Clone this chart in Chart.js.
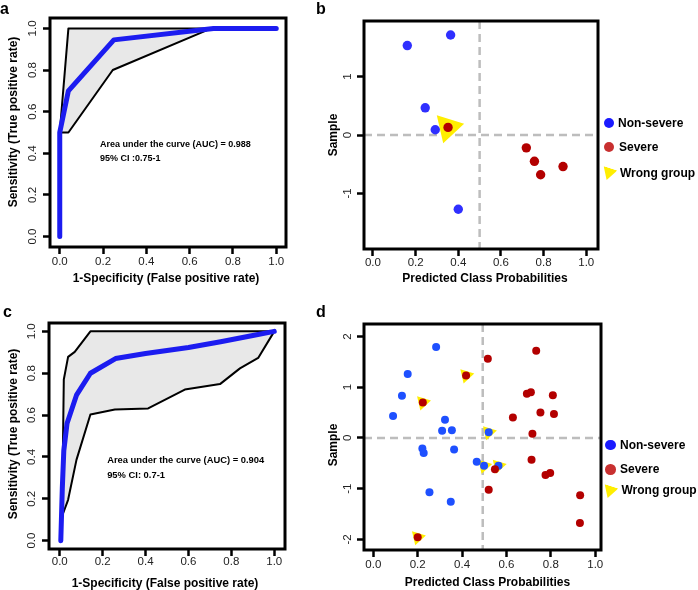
<!DOCTYPE html>
<html>
<head>
<meta charset="utf-8">
<script src="https://cdn.jsdelivr.net/npm/chart.js@4/dist/chart.umd.min.js"></script>
<style>
  body { margin: 0; background: #fff; }
  #wrap { position: relative; width: 698px; height: 590px; font-family: "Liberation Sans", Arial, sans-serif; color: #000; }
  canvas { position: absolute; }
  .lbl { position: absolute; font-weight: bold; font-size: 12px; white-space: nowrap; transform: translate(-50%, -50%); }
  .rot { transform: translate(-50%, -50%) rotate(-90deg); }
  .tag { position: absolute; font-weight: bold; font-size: 16px; line-height: 16px; }
  .leg { position: absolute; font-weight: bold; font-size: 12px; white-space: nowrap; transform: translateY(-50%); }
  .dot { position: absolute; border-radius: 50%; width: 10.6px; height: 10.6px; margin: -5.3px 0 0 -5.3px; }
  .tri { position: absolute; width: 14.4px; height: 12.5px; margin: -4.2px 0 0 -7.2px; background: #ffee00;
         clip-path: polygon(0 0, 100% 0, 50% 100%); transform-origin: 7.2px 4.2px; transform: rotate(18deg); }
</style>
</head>
<body>
<div id="wrap">
  <canvas id="chA" width="340" height="290" style="left:0;top:0"></canvas>
  <canvas id="chB" width="358" height="290" style="left:340px;top:0"></canvas>
  <canvas id="chC" width="340" height="300" style="left:0;top:290px"></canvas>
  <canvas id="chD" width="358" height="300" style="left:340px;top:290px"></canvas>

  <div class="tag" style="left:0;top:1px">a</div>
  <div class="tag" style="left:316px;top:1px">b</div>
  <div class="tag" style="left:3px;top:304px">c</div>
  <div class="tag" style="left:316px;top:304px">d</div>

  <div class="lbl rot" style="left:12.5px;top:122px">Sensitivity (True positive rate)</div>
  <div class="lbl" style="left:166px;top:277.5px">1-Specificity (False positive rate)</div>
  <div class="lbl rot" style="left:333px;top:135px">Sample</div>
  <div class="lbl" style="left:485px;top:278px">Predicted Class Probabilities</div>
  <div class="lbl rot" style="left:12.5px;top:434px">Sensitivity (True positive rate)</div>
  <div class="lbl" style="left:165px;top:582.5px">1-Specificity (False positive rate)</div>
  <div class="lbl rot" style="left:333px;top:445px">Sample</div>
  <div class="lbl" style="left:487.5px;top:582px">Predicted Class Probabilities</div>

  <span class="dot" style="left:609px;top:123px;background:#1a1aff"></span>
  <div class="leg" style="left:618px;top:123px">Non-severe</div>
  <span class="dot" style="left:609px;top:147px;background:#c83030"></span>
  <div class="leg" style="left:619px;top:147px">Severe</div>
  <span class="tri" style="left:608.7px;top:172.4px"></span>
  <div class="leg" style="left:620px;top:172.5px">Wrong group</div>

  <span class="dot" style="left:610.7px;top:445px;background:#1a1aff"></span>
  <div class="leg" style="left:620px;top:445px">Non-severe</div>
  <span class="dot" style="left:610.7px;top:469.3px;background:#c83030"></span>
  <div class="leg" style="left:620px;top:469.3px">Severe</div>
  <span class="tri" style="left:609.7px;top:490.3px"></span>
  <div class="leg" style="left:621.5px;top:490.3px">Wrong group</div>
</div>

<script>
// panel a - ROC, training set
const aFpr = [0, 0, 0.04, 0.25, 0.71, 1];
const aTpr = [0, 0.5, 0.70, 0.945, 1, 1];
const aCiUpX = [0, 0.04, 1];
const aCiUpY = [0.5, 1, 1];
const aCiLoX = [0, 0.04, 0.245, 0.70, 1];
const aCiLoY = [0.5, 0.5, 0.80, 1, 1];
const aNotes = ['Area under the curve (AUC) = 0.988', '95% CI :0.75-1'];

// panel c - ROC, validation set
const cFpr = [0.005, 0.012, 0.019, 0.034, 0.078, 0.143, 0.26, 0.40, 0.60, 0.75, 0.90, 1];
const cTpr = [0, 0.25, 0.43, 0.56, 0.695, 0.80, 0.87, 0.894, 0.923, 0.95, 0.98, 1];
const cCiUpX = [0.012, 0.015, 0.019, 0.039, 0.07, 0.143, 1];
const cCiUpY = [0.12, 0.45, 0.77, 0.878, 0.902, 1, 1];
const cCiLoX = [0.012, 0.039, 0.078, 0.143, 0.257, 0.412, 0.583, 0.747, 0.84, 0.925, 1];
const cCiLoY = [0.12, 0.195, 0.386, 0.603, 0.627, 0.632, 0.722, 0.748, 0.823, 0.873, 1];
const cNotes = ['Area under the curve (AUC) = 0.904', '95% CI: 0.7-1'];

// panel b - class probabilities
const bBlueX = [0.161, 0.364, 0.245, 0.292, 0.40];
const bBlueY = [1.53, 1.71, 0.465, 0.09, -1.27];
const bRedX = [0.352, 0.719, 0.757, 0.786, 0.891];
const bRedY = [0.13, -0.22, -0.45, -0.68, -0.54];
const bWrongX = [0.352];
const bWrongY = [0.13];
const bCut = 0.5;

// panel d - class probabilities
const dBlueX = [0.283, 0.155, 0.129, 0.089, 0.323, 0.31, 0.354, 0.221, 0.227, 0.364, 0.253, 0.349, 0.466, 0.499, 0.564, 0.52];
const dBlueY = [1.79, 1.26, 0.83, 0.43, 0.36, 0.14, 0.15, -0.21, -0.30, -0.23, -1.07, -1.26, -0.47, -0.55, -0.55, 0.11];
const dRedX = [0.516, 0.734, 0.418, 0.223, 0.692, 0.71, 0.809, 0.629, 0.753, 0.814, 0.717, 0.713, 0.548, 0.776, 0.797, 0.52, 0.932, 0.931, 0.20];
const dRedY = [1.56, 1.72, 1.23, 0.70, 0.87, 0.90, 0.84, 0.40, 0.50, 0.47, 0.08, -0.43, -0.62, -0.73, -0.69, -1.02, -1.13, -1.68, -1.96];
const dWrongX = [0.418, 0.223, 0.52, 0.499, 0.564, 0.20];
const dWrongY = [1.23, 0.70, 0.11, -0.55, -0.55, -1.96];
const dCut = 0.493;

// ticks
const rateTicks = [0, 0.2, 0.4, 0.6, 0.8, 1];
const probTicks = [0, 0.2, 0.4, 0.6, 0.8, 1];
const bSampleTicks = [-1, 0, 1];
const dSampleTicks = [-2, -1, 0, 1, 2];

const pts = (xs, ys) => xs.map((x, i) => ({ x, y: ys[i] }));
// CI band: upper line then lower line back, filled as one shape
const band = (ux, uy, lx, ly) => pts(ux, uy).concat(pts(lx, ly).reverse());

const tickFont = { family: '"Liberation Sans Narrow", "Arial Narrow", "Liberation Sans", Arial, sans-serif', size: 11.5 };
const noteFamily = '"Liberation Sans", Arial, sans-serif';

const framePlugin = {
  id: 'frame',
  beforeDatasetsDraw(chart, args, opts) {
    if (opts.cutX === undefined) return;
    const { ctx, chartArea: a, scales } = chart;
    const px = scales.x.getPixelForValue(opts.cutX);
    const py = scales.y.getPixelForValue(opts.cutY);
    ctx.save();
    ctx.strokeStyle = '#bdbdbd';
    ctx.lineWidth = 2.5;
    ctx.setLineDash([8, 5]);
    ctx.beginPath();
    ctx.moveTo(px, a.top); ctx.lineTo(px, a.bottom);
    ctx.moveTo(a.left, py); ctx.lineTo(a.right, py);
    ctx.stroke();
    ctx.restore();
  },
  afterDatasetsDraw(chart, args, opts) {
    const { ctx, chartArea: a, scales } = chart;
    ctx.save();
    ctx.strokeStyle = '#000';
    ctx.lineWidth = 3;
    ctx.strokeRect(a.left, a.top, a.right - a.left, a.bottom - a.top);
    if (opts.notes) {
      ctx.font = 'bold ' + opts.noteSize + 'px ' + noteFamily;
      ctx.fillStyle = '#000';
      ctx.textBaseline = 'middle';
      opts.notes.forEach((t, i) => {
        ctx.fillText(t, scales.x.getPixelForValue(opts.noteX), scales.y.getPixelForValue(opts.noteY[i]));
      });
    }
    ctx.restore();
  }
};

function axes(o) {
  const grid = { drawOnChartArea: false, tickLength: 7, tickWidth: 2.5, tickColor: '#000' };
  return {
    x: {
      type: 'linear', min: o.xMin, max: o.xMax,
      afterBuildTicks: s => { s.ticks = o.xTicks.map(v => ({ value: v })); },
      afterFit: s => { s.height = o.xH; },
      ticks: { font: tickFont, color: '#222', padding: o.xPad, autoSkip: false, maxRotation: 0,
               callback: v => v.toFixed(1) },
      grid, border: { display: false }
    },
    y: {
      type: 'linear', min: o.yMin, max: o.yMax,
      afterBuildTicks: s => { s.ticks = o.yTicks.map(v => ({ value: v })); },
      afterFit: s => { s.width = o.yW; },
      ticks: { font: tickFont, color: '#222', padding: o.yPad, autoSkip: false, minRotation: 90, maxRotation: 90,
               crossAlign: 'center', callback: o.yFmt },
      grid, border: { display: false }
    }
  };
}

function makeChart(id, datasets, o, frameOpts) {
  return new Chart(document.getElementById(id), {
    type: 'scatter',
    data: { datasets },
    options: {
      responsive: false, animation: false, events: [], devicePixelRatio: 1,
      layout: { padding: { left: 0, top: o.top, right: o.right, bottom: 0 } },
      plugins: { legend: { display: false }, tooltip: { enabled: false }, frame: frameOpts },
      scales: axes(o)
    },
    plugins: [framePlugin]
  });
}

function rocSets(fx, fy, band) {
  return [
    { data: pts(fx, fy), showLine: true, borderColor: '#1c1cf0', borderWidth: 5, pointRadius: 0,
      borderCapStyle: 'round', borderJoinStyle: 'round', order: 1 },
    { data: band, showLine: true, borderColor: '#000', borderWidth: 2, backgroundColor: '#e8e8e8',
      fill: 'shape', pointRadius: 0, borderJoinStyle: 'round', order: 2 }
  ];
}

function dotSets(bx, by, rx, ry, wx, wy, blue, r, triR) {
  return [
    { data: pts(rx, ry), pointBackgroundColor: '#b30000', pointBorderWidth: 0, pointRadius: r, order: 1 },
    { data: pts(bx, by), pointBackgroundColor: blue, pointBorderWidth: 0, pointRadius: r, order: 2 },
    { data: pts(wx, wy), pointStyle: 'triangle', pointRotation: 197, pointBackgroundColor: '#ffee00',
      pointBorderWidth: 0, pointRadius: triR, order: 3 }
  ];
}

const fmtRate = v => v.toFixed(1);
const fmtInt = v => String(v);

makeChart('chA', rocSets(aFpr, aTpr, band(aCiUpX, aCiUpY, aCiLoX, aCiLoY)),
  { top: 18, right: 54, xH: 43, yW: 50, xMin: -0.045, xMax: 1.045, yMin: -0.05, yMax: 1.05,
    xTicks: rateTicks, yTicks: rateTicks, xPad: 1, yPad: 2.5, yFmt: fmtRate },
  { notes: aNotes, noteSize: 9, noteX: 0.186, noteY: [0.443, 0.376] });

makeChart('chC', rocSets(cFpr, cTpr, band(cCiUpX, cCiUpY, cCiLoX, cCiLoY)),
  { top: 33, right: 55, xH: 41, yW: 49, xMin: -0.05, xMax: 1.05, yMin: -0.04, yMax: 1.04,
    xTicks: rateTicks, yTicks: rateTicks, xPad: -1, yPad: 1.7, yFmt: fmtRate },
  { notes: cNotes, noteSize: 9.4, noteX: 0.221, noteY: [0.382, 0.31] });

makeChart('chB', dotSets(bBlueX, bBlueY, bRedX, bRedY, bWrongX, bWrongY, '#2f2fff', 4.7, 16.5),
  { top: 21, right: 100, xH: 41, yW: 24, xMin: -0.042, xMax: 1.055, yMin: -1.95, yMax: 1.95,
    xTicks: probTicks, yTicks: bSampleTicks, xPad: 0, yPad: 4, yFmt: fmtInt },
  { cutX: bCut, cutY: 0 });

makeChart('chD', dotSets(dBlueX, dBlueY, dRedX, dRedY, dWrongX, dWrongY, '#1e50ff', 4, 8.4),
  { top: 34, right: 97, xH: 40, yW: 24, xMin: -0.042, xMax: 1.026, yMin: -2.21, yMax: 2.245,
    xTicks: probTicks, yTicks: dSampleTicks, xPad: 0.5, yPad: 4.2, yFmt: fmtInt },
  { cutX: dCut, cutY: 0 });
</script>
</body>
</html>
